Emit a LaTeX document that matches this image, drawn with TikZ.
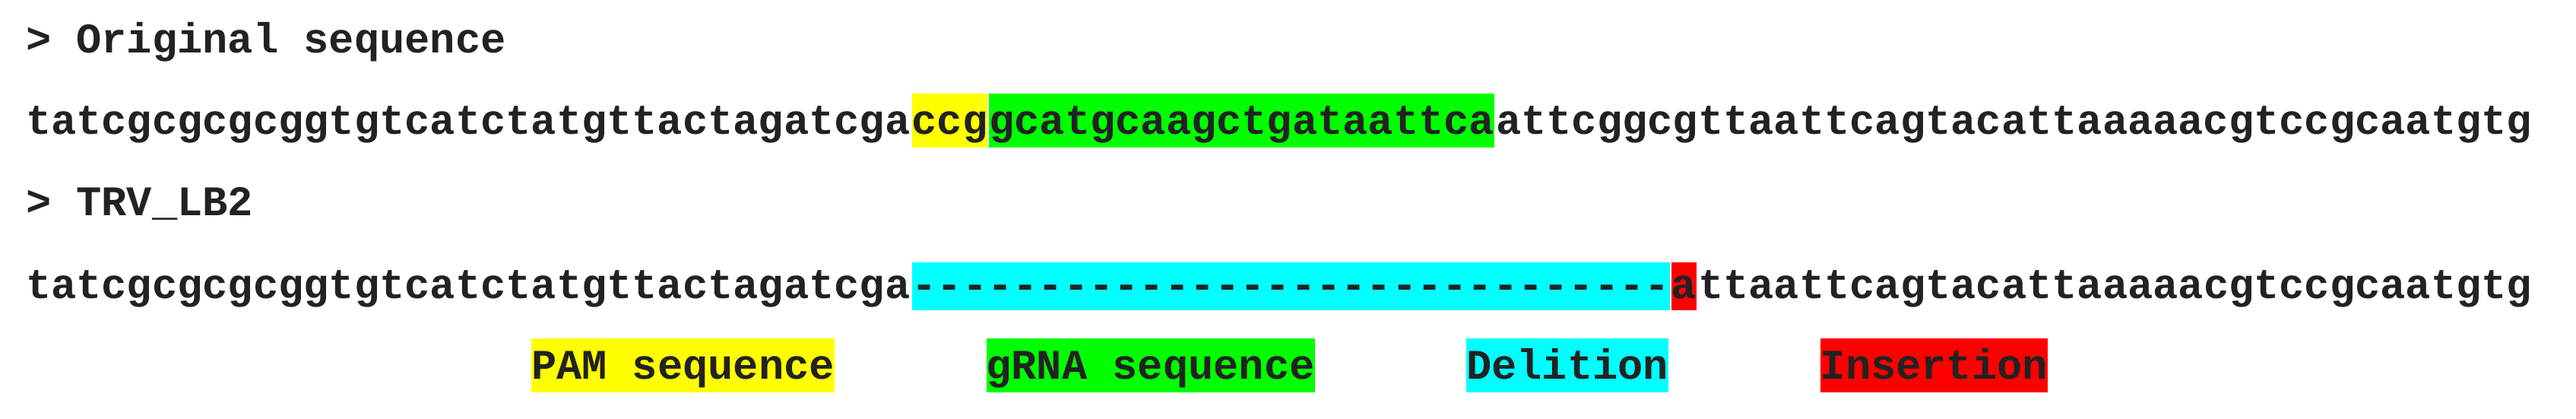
\documentclass[tikz,border=0pt]{standalone}
\usepackage{fontspec}
\setmonofont{Liberation Mono}
\usepackage{tikz}
\usetikzlibrary{positioning}
\definecolor{pamyellow}{HTML}{FFFF00}
\definecolor{grnagreen}{HTML}{00FF00}
\definecolor{delcyan}{HTML}{00FFFF}
\definecolor{insred}{HTML}{FF0000}
\definecolor{seqink}{HTML}{222222}

\begin{document}
\begin{tikzpicture}[
    seq/.style={inner sep=0pt, text=seqink, font=\ttfamily\bfseries\fontsize{11.08}{13}\selectfont},
    boxhi/.style={seq, text height=10.6pt, text depth=3.6pt},
    boxlo/.style={seq, text height=9.4pt, text depth=3.2pt}]
    \useasboundingbox (0,0) rectangle (677.8pt,-110pt);

    % original sequence
    \node[seq, anchor=base west] (hdrOrig) at (6.6pt,-13.8pt) {> Original sequence};
    \node[boxhi, anchor=base west] (origA) at (6.6pt,-35.2pt) {tatcgcgcgcggtgtcatctatgttactagatcga};
    \node[boxhi, fill=pamyellow, base right=0pt of origA] (origPAM) {ccg};
    \node[boxhi, fill=grnagreen, base right=0pt of origPAM] (origGRNA) {gcatgcaagctgataattca};
    \node[boxhi, base right=0pt of origGRNA] (origB) {attcggcgttaattcagtacattaaaaacgtccgcaatgtg};

    % edited sequence
    \node[seq, anchor=base west] (hdrTRV) at (6.6pt,-56.6pt) {> TRV\_LB2};
    \node[boxlo, anchor=base west] (trvA) at (6.6pt,-78.4pt) {tatcgcgcgcggtgtcatctatgttactagatcga};
    \node[boxlo, fill=delcyan, base right=0pt of trvA] (trvDEL) {------------------------------};
    \node[boxlo, fill=insred, base right=0pt of trvDEL] (trvINS) {a};
    \node[boxlo, base right=0pt of trvINS] (trvB) {ttaattcagtacattaaaaacgtccgcaatgtg};

    % legend
    \node[boxhi, fill=pamyellow, anchor=base west] (legPAM) at (139.6pt,-99.6pt) {PAM sequence};
    \node[boxhi, fill=grnagreen, anchor=base west] (legGRNA) at (259.3pt,-99.6pt) {gRNA sequence};
    \node[boxhi, fill=delcyan, anchor=base west] (legDEL) at (385.65pt,-99.6pt) {Delition};
    \node[boxhi, fill=insred, anchor=base west] (legINS) at (478.75pt,-99.6pt) {Insertion};

\end{tikzpicture}
\end{document}
